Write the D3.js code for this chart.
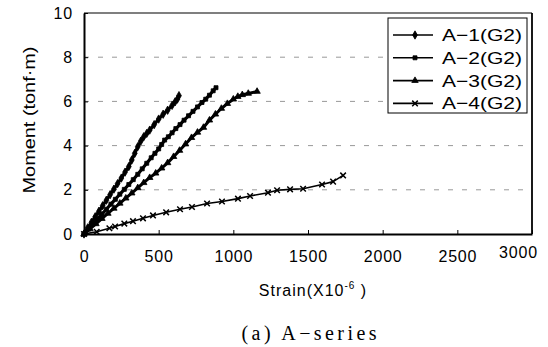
<!DOCTYPE html>
<html>
<head>
<meta charset="utf-8">
<script src="https://cdn.jsdelivr.net/npm/d3@7"></script>
<style>
  body { margin: 0; background: #fff; }
  svg { display: block; font-family: "Liberation Sans", Arial, sans-serif; }
</style>
</head>
<body>
<div id="chart"></div>
<script>
// strain (x10^-6) readings per specimen
const a1Strain = [0, 25, 50, 75, 100, 125, 150, 175, 200, 225, 250, 275, 300, 320, 340, 360, 380, 400, 420, 440, 470, 500, 530, 560, 590, 610, 625, 636];
const a1Moment = [0, 0.28, 0.53, 0.78, 1.03, 1.28, 1.53, 1.78, 2.03, 2.28, 2.53, 2.8, 3.05, 3.35, 3.65, 3.95, 4.2, 4.4, 4.55, 4.7, 4.95, 5.2, 5.42, 5.6, 5.82, 5.98, 6.1, 6.26];

const a2Strain = [0, 30, 60, 90, 120, 150, 180, 210, 240, 270, 300, 330, 360, 390, 420, 450, 475, 500, 520, 540, 565, 590, 615, 643, 670, 700, 730, 760, 790, 815, 840, 865, 884];
const a2Moment = [0, 0.22, 0.45, 0.68, 0.9, 1.12, 1.35, 1.57, 1.8, 2.02, 2.24, 2.46, 2.7, 2.95, 3.2, 3.45, 3.65, 3.85, 4.05, 4.25, 4.4, 4.58, 4.77, 4.95, 5.15, 5.35, 5.55, 5.75, 5.95, 6.1, 6.28, 6.48, 6.62];

const a3Strain = [0, 40, 80, 120, 160, 200, 240, 280, 320, 360, 400, 440, 480, 520, 560, 600, 640, 680, 720, 760, 800, 840, 880, 920, 960, 1000, 1030, 1060, 1100, 1159];
const a3Moment = [0, 0.23, 0.46, 0.7, 0.93, 1.16, 1.39, 1.62, 1.85, 2.09, 2.32, 2.55, 2.75, 2.98, 3.22, 3.5, 3.78, 4.07, 4.36, 4.6, 4.82, 5.15, 5.42, 5.68, 5.9, 6.1, 6.22, 6.3, 6.36, 6.45];

const a4Strain = [0, 85, 170, 208, 270, 328, 395, 462, 550, 643, 723, 824, 924, 1031, 1112, 1232, 1293, 1380, 1467, 1594, 1668, 1735];
const a4Moment = [0, 0.1, 0.26, 0.34, 0.47, 0.58, 0.71, 0.84, 0.98, 1.12, 1.22, 1.38, 1.47, 1.6, 1.72, 1.87, 1.98, 2.02, 2.05, 2.24, 2.37, 2.65];

const seriesNames = ['A−1(G2)', 'A−2(G2)', 'A−3(G2)', 'A−4(G2)'];
const xTicks = [0, 500, 1000, 1500, 2000, 2500, 3000];
const yTicks = [0, 2, 4, 6, 8, 10];

const width = 548, height = 347;
const plotLeft = 84, plotRight = 532, plotTop = 13, plotBottom = 234;

const svg = d3.select('#chart').append('svg')
  .attr('width', width)
  .attr('height', height);

svg.append('rect').attr('width', width).attr('height', height).attr('fill', '#fff');

const x = d3.scaleLinear().domain([0, 3000]).range([plotLeft, plotRight]);
const y = d3.scaleLinear().domain([0, 10]).range([plotBottom, plotTop]);

// gridlines
svg.append('g')
  .selectAll('line')
  .data(yTicks.filter(d => d > 0 && d < 10))
  .enter()
  .append('line')
  .attr('x1', plotLeft).attr('x2', plotRight)
  .attr('y1', d => y(d)).attr('y2', d => y(d))
  .attr('stroke', '#999')
  .attr('stroke-width', 1)
  .attr('stroke-dasharray', '5,9');

// axes
const xAxis = svg.append('g')
  .attr('transform', `translate(0,${plotBottom})`)
  .call(d3.axisBottom(x).tickValues(xTicks).tickFormat(d3.format('d'))
    .tickSizeInner(-4).tickSizeOuter(0).tickPadding(17));
xAxis.select('.domain').attr('stroke-width', 2);
xAxis.selectAll('text')
  .attr('font-size', 16)
  .attr('letter-spacing', 0.8)
  .attr('font-family', 'Liberation Sans, Arial, sans-serif');
// last label sits pulled in from the frame edge, as in the original
xAxis.selectAll('.tick').filter(d => d === 3000).select('text')
  .attr('x', -14).attr('dy', '0.45em');

const yAxis = svg.append('g')
  .attr('transform', `translate(${plotLeft},0)`)
  .call(d3.axisLeft(y).tickValues(yTicks).tickSizeInner(-4).tickSizeOuter(0).tickPadding(11));
yAxis.select('.domain').attr('stroke-width', 2);
yAxis.selectAll('text')
  .attr('font-size', 16)
  .attr('letter-spacing', 0.8)
  .attr('font-family', 'Liberation Sans, Arial, sans-serif');

// top and right frame
svg.append('line').attr('x1', plotLeft).attr('x2', plotRight).attr('y1', plotTop).attr('y2', plotTop)
  .attr('stroke', '#000').attr('stroke-width', 1.2);
svg.append('line').attr('x1', plotRight).attr('x2', plotRight).attr('y1', plotTop).attr('y2', plotBottom)
  .attr('stroke', '#000').attr('stroke-width', 1.8);

// series
const zip = (xs, ys) => xs.map((v, i) => [v, ys[i]]);
const series = [
  { name: seriesNames[0], pts: zip(a1Strain, a1Moment), sym: d3.symbolDiamond, size: 20, w: 3.2 },
  { name: seriesNames[1], pts: zip(a2Strain, a2Moment), sym: d3.symbolSquare, size: 16, w: 3.2 },
  { name: seriesNames[2], pts: zip(a3Strain, a3Moment), sym: d3.symbolTriangle, size: 18, w: 3 },
  { name: seriesNames[3], pts: zip(a4Strain, a4Moment), sym: d3.symbolTimes, size: 22, w: 1.6 }
];

const line = d3.line().x(d => x(d[0])).y(d => y(d[1]));

series.forEach(s => {
  svg.append('path')
    .datum(s.pts)
    .attr('d', line)
    .attr('fill', 'none')
    .attr('stroke', '#000')
    .attr('stroke-width', s.w)
    .attr('stroke-linejoin', 'round');

  const stroked = s.sym === d3.symbolTimes;
  svg.append('g')
    .selectAll('path')
    .data(s.pts)
    .enter()
    .append('path')
    .attr('transform', d => `translate(${x(d[0])},${y(d[1])})`)
    .attr('d', d3.symbol().type(s.sym).size(s.size))
    .attr('fill', stroked ? 'none' : '#000')
    .attr('stroke', '#000')
    .attr('stroke-width', stroked ? 1.5 : 0.8);
});

// legend
const legend = svg.append('g');
legend.append('rect')
  .attr('x', 388).attr('y', 18).attr('width', 139).attr('height', 95)
  .attr('fill', '#fff').attr('stroke', '#000').attr('stroke-width', 1);

series.forEach((s, i) => {
  const ly = 35 + i * 22.8;
  legend.append('line')
    .attr('x1', 393).attr('x2', 433).attr('y1', ly).attr('y2', ly)
    .attr('stroke', '#000').attr('stroke-width', 1.6);
  const stroked = s.sym === d3.symbolTimes;
  legend.append('path')
    .attr('transform', `translate(415,${ly})`)
    .attr('d', d3.symbol().type(s.sym).size(s.size))
    .attr('fill', stroked ? 'none' : '#000')
    .attr('stroke', '#000')
    .attr('stroke-width', stroked ? 1.5 : 0.8);
  legend.append('text')
    .attr('x', 442).attr('y', ly + 6)
    .attr('font-size', 17)
    .attr('textLength', 80)
    .attr('lengthAdjust', 'spacingAndGlyphs')
    .text(s.name);
});

// axis titles
svg.append('text')
  .attr('transform', 'translate(35,120) rotate(-90)')
  .attr('text-anchor', 'middle')
  .attr('font-size', 16)
  .attr('textLength', 147)
  .attr('lengthAdjust', 'spacingAndGlyphs')
  .text('Moment (tonf·m)');

const xt = svg.append('text')
  .attr('x', 313).attr('y', 296)
  .attr('text-anchor', 'middle')
  .attr('font-size', 16)
  .attr('letter-spacing', 1);
xt.append('tspan').text('Strain(X10');
xt.append('tspan').attr('font-size', 10).attr('dy', -7).text('-6');
xt.append('tspan').attr('dy', 7).text(' )');

svg.append('text')
  .attr('x', 309).attr('y', 340)
  .attr('text-anchor', 'middle')
  .attr('font-family', 'Liberation Serif, Times New Roman, serif')
  .attr('font-size', 20)
  .attr('textLength', 135)
  .attr('lengthAdjust', 'spacing')
  .text('(a)  A−series');
</script>
</body>
</html>
